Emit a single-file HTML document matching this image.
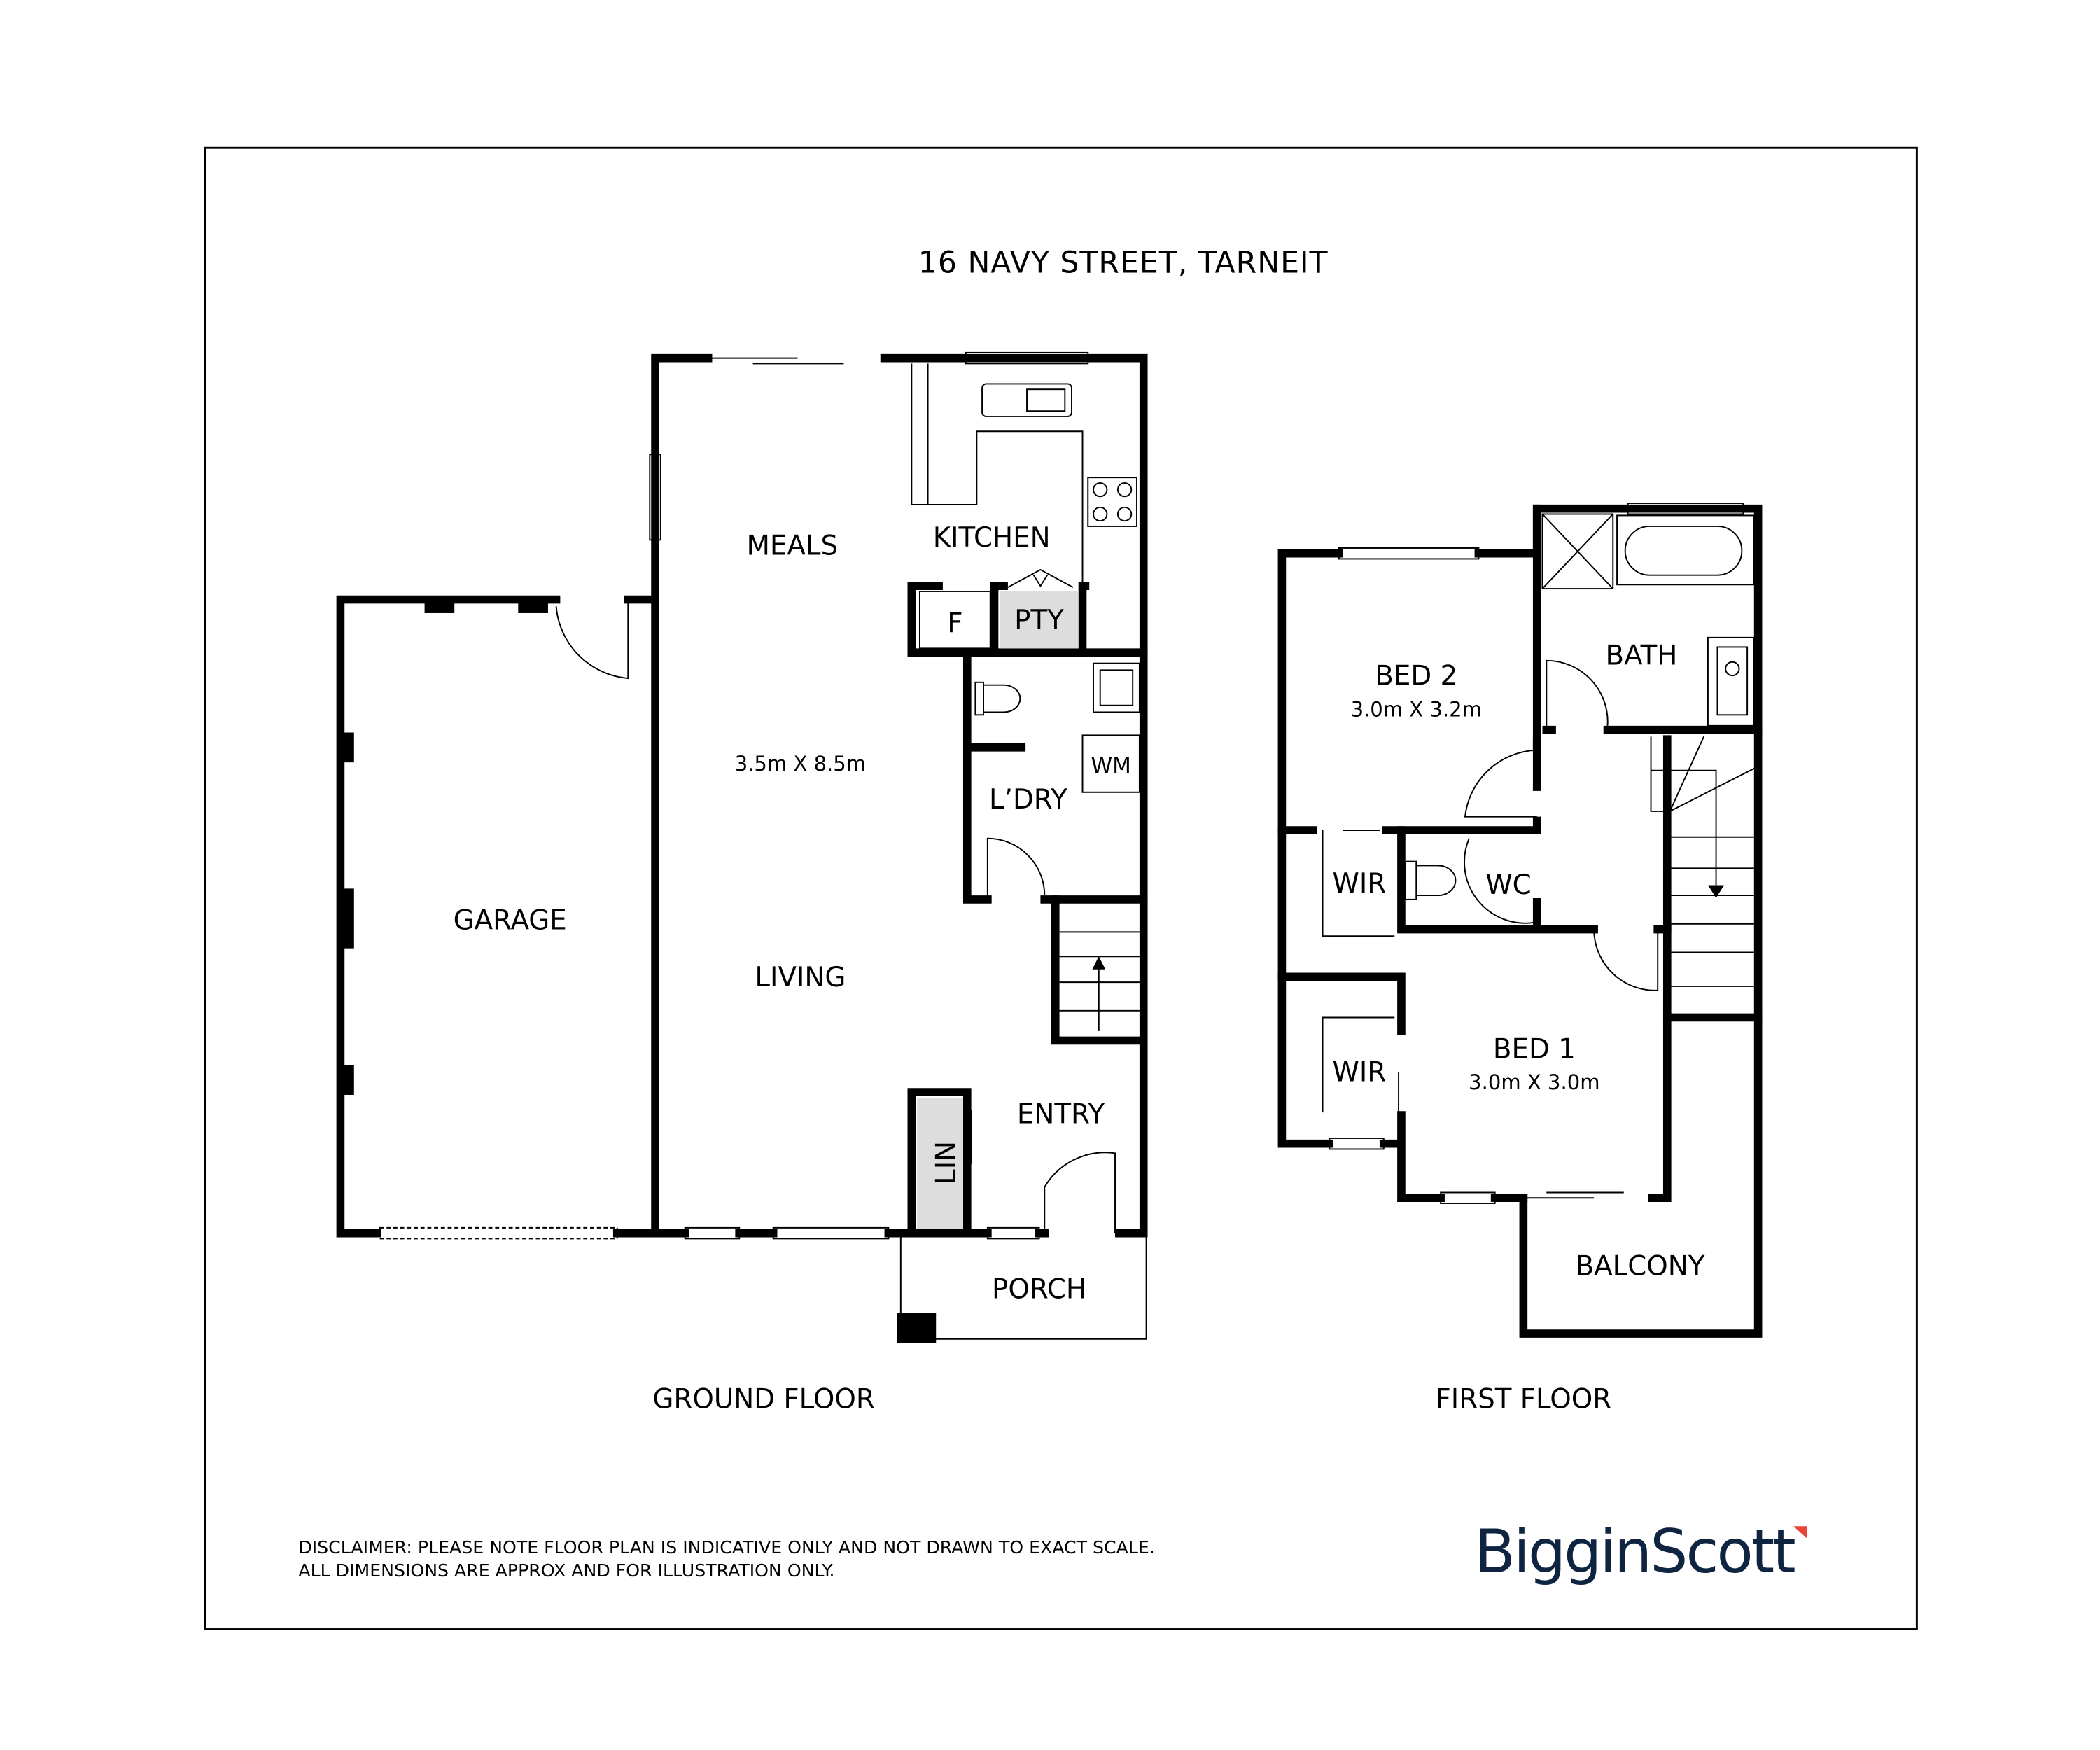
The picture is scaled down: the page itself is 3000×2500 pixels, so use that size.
<!DOCTYPE html>
<html><head><style>html,body{margin:0;padding:0;background:#fff}svg{display:block}text{font-family:"DejaVu Sans","Liberation Sans",sans-serif;fill:#000}</style></head>
<body>
<svg width="3000" height="2500" viewBox="0 0 1548 1290" xmlns="http://www.w3.org/2000/svg">
<rect x="151" y="109" width="1262" height="1092" fill="none" stroke="#000" stroke-width="1.5"/>
<text x="828" y="201" font-size="22" text-anchor="middle" letter-spacing="0.5">16 NAVY STREET, TARNEIT</text>

<g stroke="#000" stroke-width="6" fill="none" stroke-linecap="square">
<!-- ground main -->
<path d="M522 264 H483 V909 H505"/>
<path d="M652 264 H843 V909 H825"/>
<path d="M545 909 H570 M655 909 H728 M766 909 H770"/>
<!-- garage -->
<path d="M410 442 H251 V909 H278"/>
<path d="M463 442 H483"/>
<path d="M455 909 H483"/>
<!-- kitchen boxes -->
<path d="M672 481 V432 H692 M672 481 H843 M733 481 V432 H740 M800 432 H798 V481"/>
<!-- laundry -->
<path d="M713 481 V663 H728 M713 551 H753 M770 663 H843"/>
<path d="M778 663 V767 H843"/>
<!-- LIN -->
<path d="M713 909 V805 H672 V909"/>
</g>
<rect x="676" y="809" width="34" height="97" fill="#ddd"/>
<rect x="737" y="436" width="58" height="42" fill="#ddd"/>
<!-- garage wall marks -->
<g fill="#000"><rect x="313" y="440" width="22" height="12"/><rect x="382" y="440" width="22" height="12"/>
<rect x="251" y="540" width="10" height="22"/><rect x="251" y="655" width="10" height="44"/><rect x="251" y="785" width="10" height="22"/>
<rect x="661" y="968" width="29" height="22"/></g>
<g stroke="#000" stroke-width="1" fill="none">
<!-- windows -->
<rect x="280" y="905" width="175" height="8" stroke-dasharray="3 2"/>
<rect x="505" y="905" width="40" height="8"/><rect x="570" y="905" width="85" height="8"/><rect x="728" y="905" width="38" height="8"/>
<rect x="479" y="335" width="8" height="63"/>
<rect x="712" y="260" width="90" height="8"/>
<path d="M522 264 H588 M555 268 H622"/>
<!-- garage door -->
<path d="M463 442 V500 A58 58 0 0 1 410 447"/>
<!-- porch -->
<path d="M664 912 V987 H845 V912"/>
<!-- entry door -->
<path d="M770 909 V875 A52 52 0 0 1 822 850 V909"/>
<!-- laundry door -->
<path d="M728 663 V618 A42 42 0 0 1 770 660"/>
<!-- stairs -->
<path d="M781 687 H840 M781 705 H840 M781 724 H840 M781 745 H840"/>
<path d="M810 760 V708"/><path d="M806 714 L810 706 L814 714 Z" fill="#000"/>
<!-- kitchen -->
<path d="M672 268 V372 H720 V318 H798 V432"/>
<path d="M684 268 V372"/>
<rect x="724" y="283" width="66" height="24" rx="3"/><rect x="757" y="287" width="28" height="16"/>
<rect x="802" y="352" width="36" height="36"/><circle cx="811" cy="361" r="5"/><circle cx="829" cy="361" r="5"/><circle cx="811" cy="379" r="5"/><circle cx="829" cy="379" r="5"/>
<rect x="678" y="436" width="52" height="42"/>
<path d="M743 433 L767 420 L791 433 M762 424 L767 432 L772 424"/>
<!-- laundry fixtures -->
<rect x="806" y="489" width="34" height="36"/><rect x="811" y="494" width="24" height="26"/>
<rect x="798" y="542" width="42" height="42"/>
<rect x="719" y="503" width="6" height="24"/><path d="M725 505 H740 A12 10 0 0 1 740 525 H725"/>
<path d="M716 818 V858"/>
</g>
<g font-size="20" text-anchor="middle">
<text x="584" y="409">MEALS</text><text x="731" y="403">KITCHEN</text>
<text x="704" y="466">F</text><text x="766" y="464">PTY</text>
<text x="819" y="570" font-size="16">WM</text><text x="758" y="596">L’DRY</text>
<text x="590" y="568" font-size="15">3.5m X 8.5m</text>
<text x="590" y="727">LIVING</text><text x="376" y="685">GARAGE</text>
<text x="782" y="828">ENTRY</text><text x="766" y="957">PORCH</text>
<text x="0" y="0" transform="translate(704 857) rotate(-90)">LIN</text>
<text x="563" y="1038">GROUND FLOOR</text><text x="1123" y="1038">FIRST FLOOR</text>
</g>

<!-- FIRST FLOOR -->
<g stroke="#000" stroke-width="6" fill="none" stroke-linecap="square">
<path d="M987 408 H945 V843 H980"/>
<path d="M1090 408 H1133 V375 H1296 V983 H1123 V883"/>
<path d="M1133 375 V550"/><path d="M1140 538 H1144 M1185 538 H1296"/>
<path d="M1133 580 V548 M1133 605 V612"/>
<path d="M945 612 H968 M1022 612 H1133"/>
<path d="M1033 612 V685 M1033 685 H1175 M1133 665 V685"/>
<path d="M945 720 H1033 V760 M1033 822 V843 M1020 843 H1033 V883 H1062"/>
<path d="M1102 883 H1123 M1218 883 H1229 V545"/>
<path d="M1229 750 H1296 M1222 685 H1229"/>
</g>
<g stroke="#000" stroke-width="1" fill="none">
<rect x="987" y="404" width="103" height="8"/><rect x="1200" y="371" width="85" height="8"/>
<rect x="1062" y="879" width="40" height="8"/><rect x="980" y="839" width="40" height="8"/>
<path d="M1102 883 H1175 M1140 879 H1197"/>
<path d="M990 612 H1017"/><path d="M1031 790 V822"/>
<!-- bath -->
<rect x="1137" y="379" width="52" height="55"/><path d="M1137 379 L1189 434 M1189 379 L1137 434"/>
<rect x="1192" y="380" width="101" height="51"/><rect x="1198" y="388" width="86" height="36" rx="18"/>
<rect x="1259" y="470" width="34" height="65"/><rect x="1266" y="477" width="22" height="50"/><circle cx="1277" cy="493" r="5"/>
<path d="M1140 538 V487 A45 45 0 0 1 1185 535"/>
<!-- bed2 door -->
<path d="M1133 553 A55 55 0 0 0 1080 602 H1133"/>
<!-- wc door -->
<path d="M1083 618 A45 45 0 0 0 1131 680"/>
<rect x="1036" y="635" width="8" height="28"/><path d="M1044 638 H1060 A13 11 0 0 1 1060 660 H1044"/>
<!-- bed1 door -->
<path d="M1175 685 A45 45 0 0 0 1222 730 V687"/>
<!-- WIR shelves -->
<path d="M975 612 V690 H1028 M975 820 V750 H1028"/>
<!-- stairs -->
<path d="M1217 543 V598 H1231 M1217 568 H1265 V660 M1231 598 L1256 543 M1231 598 L1296 565"/>
<path d="M1231 617 H1293 M1231 640 H1293 M1231 660 H1293 M1231 681 H1293 M1231 702 H1293 M1231 727 H1293"/>
<path d="M1260 653 L1265 661 L1270 653 Z" fill="#000"/>
</g>
<g font-size="20" text-anchor="middle">
<text x="1044" y="505">BED 2</text><text x="1044" y="528" font-size="15">3.0m X 3.2m</text>
<text x="1210" y="490">BATH</text>
<text x="1002" y="658">WIR</text><text x="1112" y="659">WC</text>
<text x="1002" y="797">WIR</text>
<text x="1131" y="780">BED 1</text><text x="1131" y="803" font-size="15">3.0m X 3.0m</text>
<text x="1209" y="940">BALCONY</text>
</g>
<text x="220" y="1145" font-size="13">DISCLAIMER: PLEASE NOTE FLOOR PLAN IS INDICATIVE ONLY AND NOT DRAWN TO EXACT SCALE.</text>
<text x="220" y="1162" font-size="13">ALL DIMENSIONS ARE APPROX AND FOR ILLUSTRATION ONLY.</text>
<text x="1087" y="1159" font-size="44" style="fill:#0e2440" font-family="Liberation Sans" letter-spacing="-1.5">BigginScott</text>
<path d="M1322 1125 H1332 V1134 Z" fill="#e8443a"/>
</svg>
</body></html>
